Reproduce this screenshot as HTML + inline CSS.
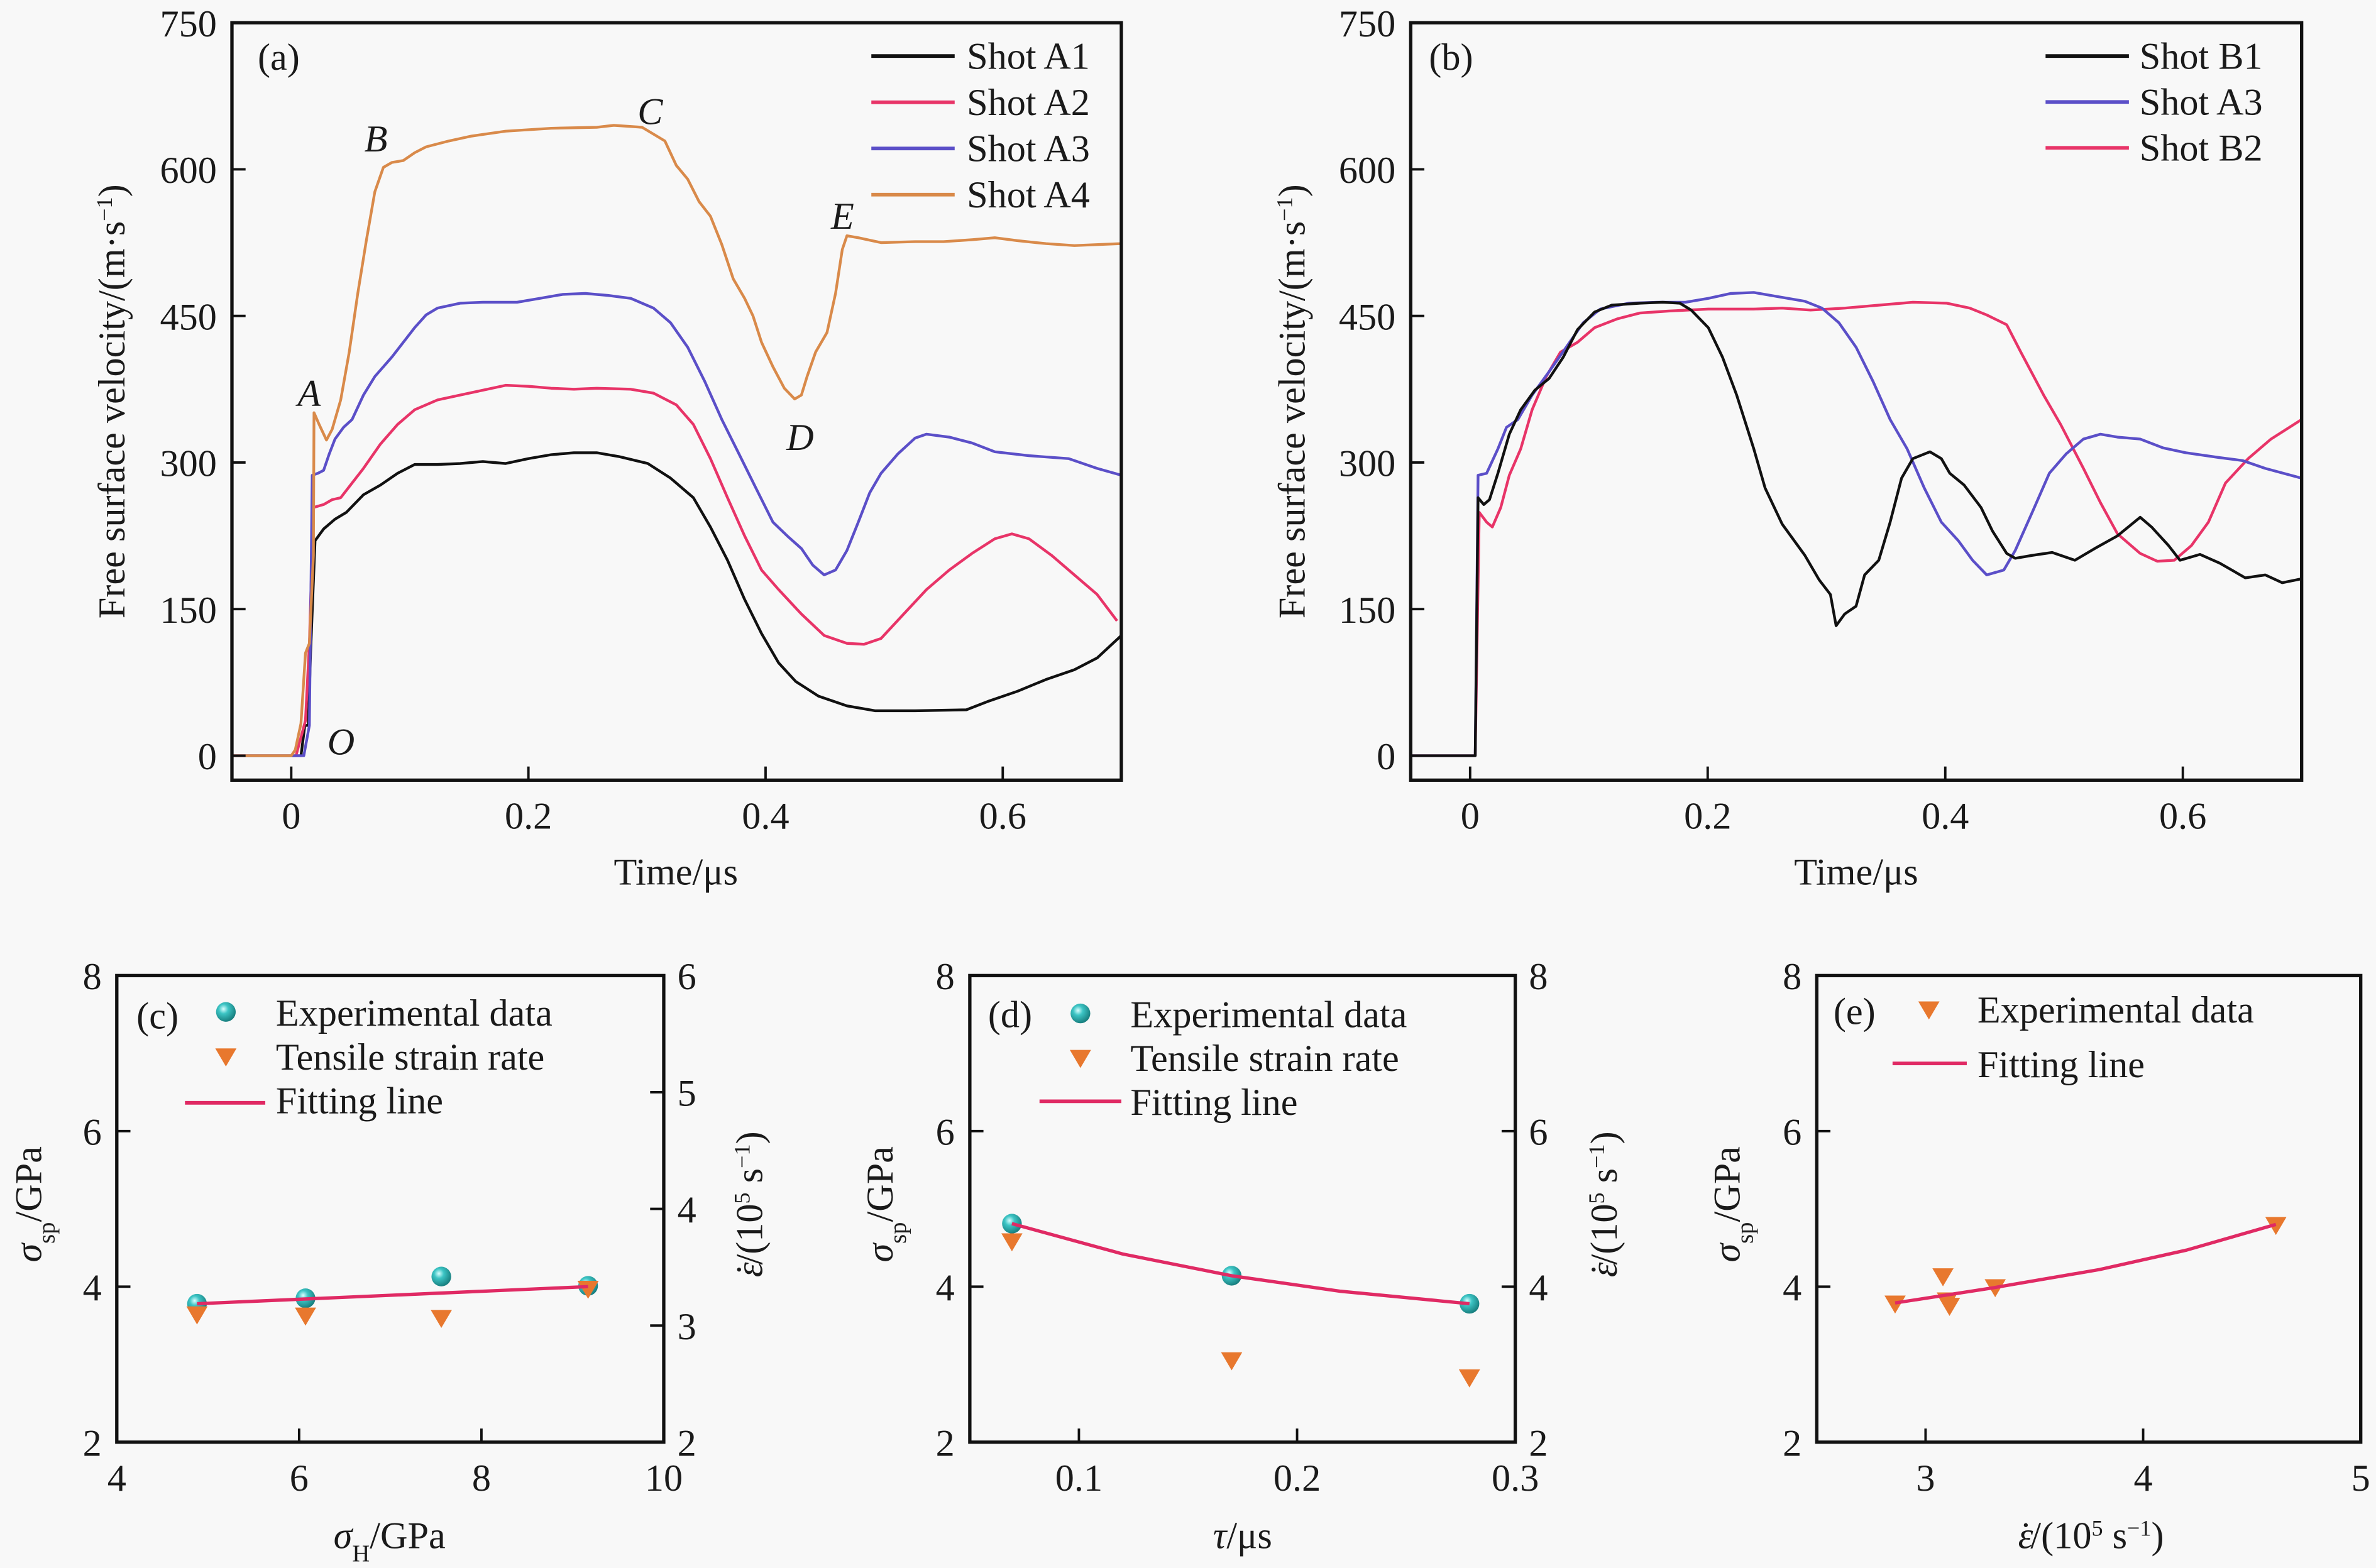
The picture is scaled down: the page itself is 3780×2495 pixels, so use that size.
<!DOCTYPE html>
<html><head><meta charset="utf-8">
<style>
html,body{margin:0;padding:0;background:#f8f8f8;}
svg, svg text{font-family:"Liberation Serif","DejaVu Serif",serif;}
text{fill:#1a1a1a;}
</style></head>
<body>
<svg id="fig" xmlns="http://www.w3.org/2000/svg" width="3780" height="2490" viewBox="0 0 1568 1033" font-family="Liberation Serif, serif">
<defs>
<radialGradient id="sph" cx="0.38" cy="0.35" r="0.7">
<stop offset="0" stop-color="#d8ffff"/><stop offset="0.35" stop-color="#3cc4c4"/><stop offset="1" stop-color="#147878"/>
</radialGradient>
</defs>
<rect x="0" y="0" width="1568" height="1033" fill="#f8f8f8"/>
</svg>
<script>
// ---------- Panel (a) data ----------
const a1T=[-0.05,0.0082,0.0115,0.0144,0.0163,0.0201,0.0273,0.0369,0.0465,0.0609,0.0753,0.0897,0.1041,0.1233,0.1424,0.1616,0.1808,0.2,0.2192,0.2384,0.2576,0.2767,0.3007,0.3199,0.3391,0.3535,0.3679,0.3823,0.3966,0.411,0.4254,0.4446,0.4686,0.4926,0.5261,0.5693,0.5885,0.6125,0.6365,0.6604,0.6796,0.7];
const a1V=[0,0,31,31,105,220,232,242,249,267,277,289,298,298,299,301,299,304,308,310,310,306,299,284,264,234,200,160,125,95,76,61,51,46,46,47,56,66,78,88,100,123];
const a2T=[-0.05,0.004,0.012,0.0153,0.0187,0.0273,0.0345,0.0417,0.0513,0.0609,0.0753,0.0897,0.1041,0.1233,0.1424,0.1616,0.1808,0.2,0.2192,0.2384,0.2576,0.2863,0.3055,0.3247,0.3391,0.3535,0.3679,0.3823,0.3966,0.411,0.4302,0.4494,0.4686,0.483,0.4974,0.5165,0.5357,0.5549,0.5741,0.5933,0.6077,0.6221,0.6412,0.6604,0.6796,0.6964];
const a2V=[0,0,36,115,254,257,262,264,279,294,319,339,354,364,369,374,379,378,376,375,376,375,371,359,339,304,264,225,190,170,145,123,115,114,120,145,170,190,207,222,227,222,205,185,165,138];
const a3T=[-0.05,0.0106,0.0153,0.0177,0.0225,0.0273,0.0321,0.0369,0.0441,0.0513,0.0609,0.0705,0.0849,0.0945,0.1041,0.1137,0.1233,0.1424,0.1616,0.1904,0.2096,0.2288,0.248,0.2671,0.2863,0.3055,0.3199,0.3343,0.3487,0.3631,0.3775,0.3918,0.4062,0.4182,0.4302,0.4398,0.4494,0.459,0.4686,0.4782,0.4878,0.4974,0.5117,0.5261,0.5357,0.5549,0.5741,0.5933,0.622,0.6556,0.6796,0.7];
const a3V=[0,0,31,287,289,292,309,324,336,344,369,388,408,423,438,451,458,463,464,464,468,472,473,471,468,458,443,418,383,344,309,274,239,225,212,195,185,190,210,239,269,289,309,325,329,326,320,311,307,304,294,287];
const a4T=[-0.05,0,0.0034,0.0082,0.012,0.0153,0.0187,0.0192,0.0235,0.0297,0.0345,0.0417,0.0489,0.0561,0.0633,0.0705,0.0777,0.0849,0.0945,0.1041,0.1137,0.1329,0.152,0.1808,0.2192,0.2576,0.272,0.2959,0.3055,0.3151,0.3247,0.3343,0.3439,0.3535,0.3631,0.3727,0.3823,0.3894,0.3966,0.4062,0.4158,0.4245,0.4302,0.435,0.4422,0.4518,0.459,0.4647,0.4686,0.4782,0.4974,0.5261,0.5501,0.5741,0.5933,0.6125,0.6364,0.6604,0.7];
const a4V=[0,0,6,33,105,115,205,351,339,323,334,364,413,473,527,577,602,607,609,617,623,629,634,639,642,643,645,643,636,629,604,590,567,552,523,488,468,450,423,398,376,365,369,388,413,433,473,518,532,530,525,526,526,528,530,527,524,522,524];
// ---------- Panel (b) data ----------
const b1T=[-0.05,0.0043,0.0067,0.0115,0.0163,0.0234,0.033,0.0426,0.0545,0.0665,0.0785,0.0904,0.1048,0.1191,0.1431,0.1622,0.1766,0.1861,0.2005,0.2124,0.2244,0.2388,0.2483,0.2627,0.2818,0.2938,0.3033,0.3081,0.3153,0.3249,0.3321,0.344,0.3536,0.3632,0.3727,0.3871,0.3967,0.4038,0.4158,0.4301,0.4397,0.4517,0.4589,0.4732,0.49,0.5091,0.5258,0.545,0.5641,0.5737,0.588,0.5976,0.6144,0.6311,0.6526,0.6694,0.6837,0.7];
const b1V=[0,0,264,257,262,289,329,354,374,386,408,436,454,461,463,464,463,456,438,408,369,314,274,237,205,180,165,133,145,153,185,200,239,284,304,311,304,289,277,254,230,207,202,205,208,200,212,225,244,234,215,200,206,197,182,185,177,181];
const b3T=[-0.05,0.0043,0.0067,0.0139,0.0234,0.0306,0.0402,0.0522,0.0665,0.0809,0.0952,0.1096,0.1335,0.1574,0.1813,0.2005,0.2196,0.2388,0.2579,0.2818,0.2962,0.3105,0.3249,0.3392,0.3536,0.3679,0.3823,0.3967,0.411,0.423,0.4349,0.4493,0.4589,0.4732,0.4876,0.5019,0.5163,0.5306,0.545,0.5641,0.5833,0.6024,0.6311,0.6502,0.6694,0.7];
const b3V=[0,0,287,289,314,336,344,369,393,418,443,457,463,464,464,468,473,474,470,465,458,443,418,383,344,314,274,239,220,200,185,190,210,249,289,309,324,329,326,324,315,310,305,302,294,284];
const b2T=[-0.05,0.0043,0.0077,0.0139,0.0187,0.0258,0.033,0.0426,0.0522,0.0641,0.0761,0.0904,0.1048,0.1239,0.1431,0.167,0.2005,0.2388,0.2627,0.2866,0.3153,0.344,0.3727,0.4014,0.4206,0.4349,0.4517,0.4636,0.4828,0.4971,0.5163,0.5306,0.545,0.5641,0.5785,0.5928,0.6072,0.6215,0.6359,0.655,0.6742,0.7];
const b2V=[0,0,249,239,234,254,287,314,354,388,413,423,438,447,453,455,457,457,458,456,458,461,464,463,458,451,441,413,369,339,294,259,227,207,199,200,215,239,279,304,324,344];
// ---------- Panel (c) data ----------
const cStress=[4.88,6.07,7.56,9.17];
const cSpall=[3.78,3.85,4.13,4.01];
const cRate=[3.10,3.09,3.07,3.32];
const cFitX=[4.88,9.17];
const cFitY=[3.78,4.0];
// ---------- Panel (d) data ----------
const dTau=[0.0693,0.17,0.279];
const dSpall=[4.81,4.14,3.78];
const dRate=[4.59,3.06,2.84];
const dFitX=[0.0693,0.12,0.17,0.22,0.279];
const dFitY=[4.81,4.42,4.14,3.94,3.78];
// ---------- Panel (e) data ----------
const eRate=[2.86,3.08,3.10,3.11,3.32,4.61];
const eSpall=[3.79,4.14,3.83,3.76,4.0,4.8];
const eFitX=[2.86,3.3,3.8,4.2,4.61];
const eFitY=[3.79,3.98,4.22,4.47,4.8];
// tick labels
const topXTicks=[0,0.2,0.4,0.6];
const topYTicks=[0,150,300,450,600,750];
const sideYTicks=[2,4,6,8];
const cXTicks=[4,6,8,10];
const cRTicks=[2,3,4,5,6];
const dXTicks=[0.1,0.2,0.3];
const eXTicks=[3,4,5];

const NS='http://www.w3.org/2000/svg';
const svg=document.getElementById('fig');
const FF='Liberation Serif, serif';
function mk(tag,attrs,parent){const e=document.createElementNS(NS,tag);for(const k in attrs)e.setAttribute(k,attrs[k]);(parent||svg).appendChild(e);return e;}
function scale(d0,d1,r0,r1){return v=>r0+(v-d0)*(r1-r0)/(d1-d0);}
const FS=25;

function frame(P,name){
  const r=mk('rect',{x:P.x0,y:P.y0,width:P.x1-P.x0,height:P.y1-P.y0,fill:'none',stroke:'#111','stroke-width':2.2});
  
  
}
function txt(x,y,s,anchor,name,extra){
  const t=mk('text',Object.assign({x:x,y:y,'font-size':FS,'font-family':FF,'text-anchor':anchor||'start'},extra||{}));
  t.textContent=s;
  
  
  return t;
}
function xTicks(P,sx,ticks,name){
  ticks.forEach(v=>{
    const x=sx(v);
    const l=mk('line',{x1:x,x2:x,y1:P.y1,y2:P.y1-9,stroke:'#111','stroke-width':1.6});
    
    
    txt(x,P.y1+32,String(v),'middle',name+'-x-tick-label');
  });
}
function yTicks(P,sy,ticks,name,side){
  ticks.forEach(v=>{
    const y=sy(v);
    const xa=side==='r'?P.x1:P.x0, dir=side==='r'?-1:1;
    const l=mk('line',{x1:xa,x2:xa+dir*9,y1:y,y2:y,stroke:'#111','stroke-width':1.6});
    
    
    if(side==='r') txt(P.x1+9,y+9,String(v),'start',name+'-right-tick-label');
    else txt(P.x0-10,y+9,String(v),'end',name+'-y-tick-label');
  });
}
function path(sx,sy,X,Y,color,w,name){
  let d='';for(let i=0;i<X.length;i++)d+=(i?'L':'M')+sx(X[i]).toFixed(2)+','+sy(Y[i]).toFixed(2);
  const p=mk('path',{d:d,fill:'none',stroke:color,'stroke-width':w,'stroke-linejoin':'round'});
  
  
  return p;
}
function sphere(x,y,name){
  const c=mk('circle',{cx:x,cy:y,r:6.5,fill:'url(#sph)'});
  
  
}
function tri(x,y,name){
  const s=7;
  const p=mk('path',{d:`M${x-s},${y-s*0.7}L${x+s},${y-s*0.7}L${x},${y+s}Z`,fill:'#e8782e'});
  
  
}
function legLine(x1,x2,y,color,name){
  const l=mk('line',{x1:x1,x2:x2,y1:y,y2:y,stroke:color,'stroke-width':2.4});
  
  
}
function rotTitle(x,y,html,name){
  const t=mk('text',{x:0,y:0,'font-size':FS,'font-family':FF,'text-anchor':'middle',transform:`translate(${x},${y}) rotate(-90)`});
  t.innerHTML=html;
  
  
}
function richText(x,y,html,name){
  const t=mk('text',{x:x,y:y,'font-size':FS,'font-family':FF,'text-anchor':'middle'});
  t.innerHTML=html;
  
  
}
const COL={A1:'#111111',A2:'#e83468',A3:'#5b4fc8',A4:'#d98a4a'};

// ---------- Panel (a) ----------
(function(){
  const P={x0:153,x1:740,y0:15,y1:515};
  const sx=scale(-0.05,0.7,P.x0,P.x1), sy=scale(-25,750,P.y1,P.y0);
  path(sx,sy,a1T,a1V,COL.A1,1.8,'shot-a1-line');
  path(sx,sy,a2T,a2V,COL.A2,1.8,'shot-a2-line');
  path(sx,sy,a3T,a3V,COL.A3,1.8,'shot-a3-line');
  path(sx,sy,a4T,a4V,COL.A4,1.8,'shot-a4-line');
  frame(P,'panel-a');
  xTicks(P,sx,topXTicks,'panel-a');
  yTicks(P,sy,topYTicks,'panel-a');
  txt(446,584,'Time/μs','middle','panel-a-x-title');
  rotTitle(82,265,'Free surface velocity/(m·s<tspan baseline-shift="super" font-size="15">−1</tspan>)','panel-a-y-title');
  txt(170,46,'(a)','start','panel-a-label');
  const L=[['Shot A1',COL.A1],['Shot A2',COL.A2],['Shot A3',COL.A3],['Shot A4',COL.A4]];
  L.forEach((e,i)=>{const y=37+30.5*i;legLine(575,630,y,e[1],'legend-'+e[0].toLowerCase().replace(' ','-')+'-line');txt(638,y+8.5,e[0],'start','legend-'+e[0].toLowerCase().replace(' ','-')+'-label');});
  const ann=[['A',204,268],['B',248,100],['C',429,82],['D',528,297],['E',556,151],['O',225,498]];
  ann.forEach(a=>txt(a[1],a[2],a[0],'middle','annotation-'+a[0].toLowerCase(),{'font-style':'italic'}));
})();
// ---------- Panel (b) ----------
(function(){
  const P={x0:931,x1:1519,y0:15,y1:515};
  const sx=scale(-0.05,0.7,P.x0,P.x1), sy=scale(-25,750,P.y1,P.y0);
  path(sx,sy,b2T,b2V,COL.A2,1.8,'shot-b2-line');
  path(sx,sy,b3T,b3V,COL.A3,1.8,'shot-a3-line-b');
  path(sx,sy,b1T,b1V,COL.A1,1.8,'shot-b1-line');
  frame(P,'panel-b');
  xTicks(P,sx,topXTicks,'panel-b');
  yTicks(P,sy,topYTicks,'panel-b');
  txt(1225,584,'Time/μs','middle','panel-b-x-title');
  rotTitle(861,265,'Free surface velocity/(m·s<tspan baseline-shift="super" font-size="15">−1</tspan>)','panel-b-y-title');
  txt(943,46,'(b)','start','panel-b-label');
  const L=[['Shot B1',COL.A1],['Shot A3',COL.A3],['Shot B2',COL.A2]];
  L.forEach((e,i)=>{const y=37+30.3*i;legLine(1350,1405,y,e[1],'legend-b-'+e[0].toLowerCase().replace(' ','-')+'-line');txt(1412,y+8.5,e[0],'start','legend-b-'+e[0].toLowerCase().replace(' ','-')+'-label');});
})();
const SIG='<tspan font-style="italic">σ</tspan><tspan baseline-shift="sub" font-size="16">sp</tspan>/GPa';
const EPS='<tspan font-style="italic">ε</tspan><tspan dx="-9" font-size="25">˙</tspan><tspan dx="-1">/(10</tspan><tspan baseline-shift="super" font-size="15">5</tspan><tspan> s</tspan><tspan baseline-shift="super" font-size="15">−1</tspan><tspan>)</tspan>';
// ---------- Panel (c) ----------
(function(){
  const P={x0:77,x1:438,y0:644,y1:952};
  const sx=scale(4,10,P.x0,P.x1), sy=scale(2,8,P.y1,P.y0), sr=scale(2,6,P.y1,P.y0);
  cStress.forEach((v,i)=>sphere(sx(v),sy(cSpall[i]),'c-exp-point'));
  cStress.forEach((v,i)=>tri(sx(v),sr(cRate[i]),'c-rate-point'));
  path(sx,sy,cFitX,cFitY,'#e02a64',2.2,'c-fitting-line');
  frame(P,'panel-c');
  xTicks(P,sx,cXTicks,'panel-c');
  yTicks(P,sy,sideYTicks,'panel-c');
  yTicks(P,sr,cRTicks,'panel-c','r');
  richText(257,1022,'<tspan font-style="italic">σ</tspan><tspan baseline-shift="sub" font-size="16">H</tspan>/GPa','panel-c-x-title');
  rotTitle(27,795,SIG,'panel-c-y-title');
  rotTitle(503,795,EPS,'panel-c-right-title');
  txt(90,679,'(c)','start','panel-c-label');
  sphere(149,668,'c-legend-sphere');
  tri(149,697,'c-legend-triangle');
  legLine(122,175,728,'#e02a64','c-legend-fit-line');
  txt(182,677,'Experimental data','start','c-legend-exp');
  txt(182,706,'Tensile strain rate','start','c-legend-rate');
  txt(182,735,'Fitting line','start','c-legend-fit');
})();
// ---------- Panel (d) ----------
(function(){
  const P={x0:640,x1:1000,y0:644,y1:952};
  const sx=scale(0.05,0.3,P.x0,P.x1), sy=scale(2,8,P.y1,P.y0);
  dTau.forEach((v,i)=>sphere(sx(v),sy(dSpall[i]),'d-exp-point'));
  dTau.forEach((v,i)=>tri(sx(v),sy(dRate[i]),'d-rate-point'));
  path(sx,sy,dFitX,dFitY,'#e02a64',2.2,'d-fitting-line');
  frame(P,'panel-d');
  xTicks(P,sx,dXTicks,'panel-d');
  yTicks(P,sy,sideYTicks,'panel-d');
  yTicks(P,sy,sideYTicks,'panel-d','r');
  richText(820,1022,'<tspan font-style="italic">τ</tspan>/μs','panel-d-x-title');
  rotTitle(589,795,SIG,'panel-d-y-title');
  rotTitle(1067,795,EPS,'panel-d-right-title');
  txt(652,678,'(d)','start','panel-d-label');
  sphere(713,669,'d-legend-sphere');
  tri(713,698,'d-legend-triangle');
  legLine(686,740,727,'#e02a64','d-legend-fit-line');
  txt(746,678,'Experimental data','start','d-legend-exp');
  txt(746,707,'Tensile strain rate','start','d-legend-rate');
  txt(746,736,'Fitting line','start','d-legend-fit');
})();
// ---------- Panel (e) ----------
(function(){
  const P={x0:1199,x1:1558,y0:644,y1:952};
  const sx=scale(2.5,5,P.x0,P.x1), sy=scale(2,8,P.y1,P.y0);
  eRate.forEach((v,i)=>tri(sx(v),sy(eSpall[i]),'e-exp-point'));
  path(sx,sy,eFitX,eFitY,'#e02a64',2.2,'e-fitting-line');
  frame(P,'panel-e');
  xTicks(P,sx,eXTicks,'panel-e');
  yTicks(P,sy,sideYTicks,'panel-e');
  rotTitle(1148,795,SIG,'panel-e-y-title');
  richText(1380,1022,EPS,'panel-e-x-title');
  txt(1210,676,'(e)','start','panel-e-label');
  tri(1273,666,'e-legend-triangle');
  legLine(1249,1298,702,'#e02a64','e-legend-fit-line');
  txt(1305,675,'Experimental data','start','e-legend-exp');
  txt(1305,711,'Fitting line','start','e-legend-fit');
})();
</script>
</body></html>
